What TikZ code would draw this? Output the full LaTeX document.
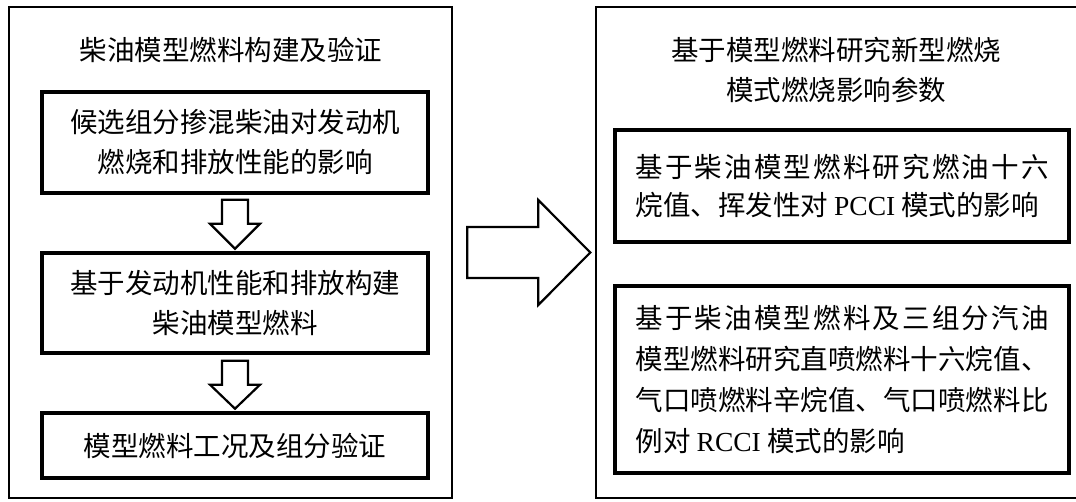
\documentclass[tikz,border=0pt]{standalone}
\usepackage{fontspec}
\setmainfont{Noto Sans CJK SC}
\newfontfamily\lat{Liberation Serif}
\XeTeXlinebreaklocale "zh"
\XeTeXlinebreakskip=0pt plus 3pt
\begin{document}
\begin{tikzpicture}[x=1pt,y=-1pt,
 outerbox/.style={draw, line width=2.6pt, inner sep=0pt},
 innerbox/.style={draw, line width=3.4pt, inner sep=0pt, minimum width=386pt, font=\fontsize{27.5}{40}\selectfont, align=center},
 rbox/.style={draw, line width=3.4pt, inner sep=0pt, minimum width=454pt, text width=413pt, align=justify},
 titletext/.style={font=\fontsize{27.5}{40}\selectfont, align=center, inner sep=0pt},
 blockarrow/.style={draw, line width=2.2pt, fill=white, line join=miter}]
\useasboundingbox (0,0) rectangle (1076,501);
\node[outerbox, minimum width=443pt, minimum height=491pt] (L) at (230.5,252.5) {};
\node[outerbox, minimum width=504pt, minimum height=491pt] (R) at (848,252.5) {};
\node[titletext] (Lt) at (231,50) {柴油模型燃料构建及验证};
\node[titletext] (Rt) at (836,70) {基于模型燃料研究新型燃烧\\模式燃烧影响参数};
\node[innerbox, minimum height=101pt] (L1) at (235,142.5) {候选组分掺混柴油对发动机\\燃烧和排放性能的影响};
\node[innerbox, minimum height=100pt] (L2) at (235,303) {基于发动机性能和排放构建\\柴油模型燃料};
\node[innerbox, minimum height=65pt] (L3) at (235,445.5) {模型燃料工况及组分验证};
\node[rbox, minimum height=112pt, font=\fontsize{27.5}{38}\selectfont] (R1) at (842,186) {\parfillskip=0pt 基于柴油模型燃料研究燃油十六\linebreak 烷值、挥发性对 {\lat PCCI} 模式的影响};
\node[rbox, minimum height=187pt, font=\fontsize{27.5}{41}\selectfont] (R2) at (842,379.5) {基于柴油模型燃料及三组分汽油\linebreak 模型燃料研究直喷燃料十六烷值、\linebreak 气口喷燃料辛烷值、气口喷燃料比\linebreak 例对 {\lat RCCI} 模式的影响};
\draw[blockarrow, shift={(L1.south)}] (-13,5) -- (-13,29) -- (-25,29) -- (0,54) -- (25,29) -- (13,29) -- (13,5) -- cycle;
\draw[blockarrow, shift={(L2.south)}] (-13,6) -- (-13,30) -- (-25,30) -- (0,54) -- (25,30) -- (13,30) -- (13,6) -- cycle;
\draw[blockarrow, shift={(L.east)}] (14,-25.5) -- (85,-25.5) -- (85,-52.5) -- (137,0) -- (85,52.5) -- (85,25.5) -- (14,25.5) -- cycle;
\end{tikzpicture}
\end{document}
